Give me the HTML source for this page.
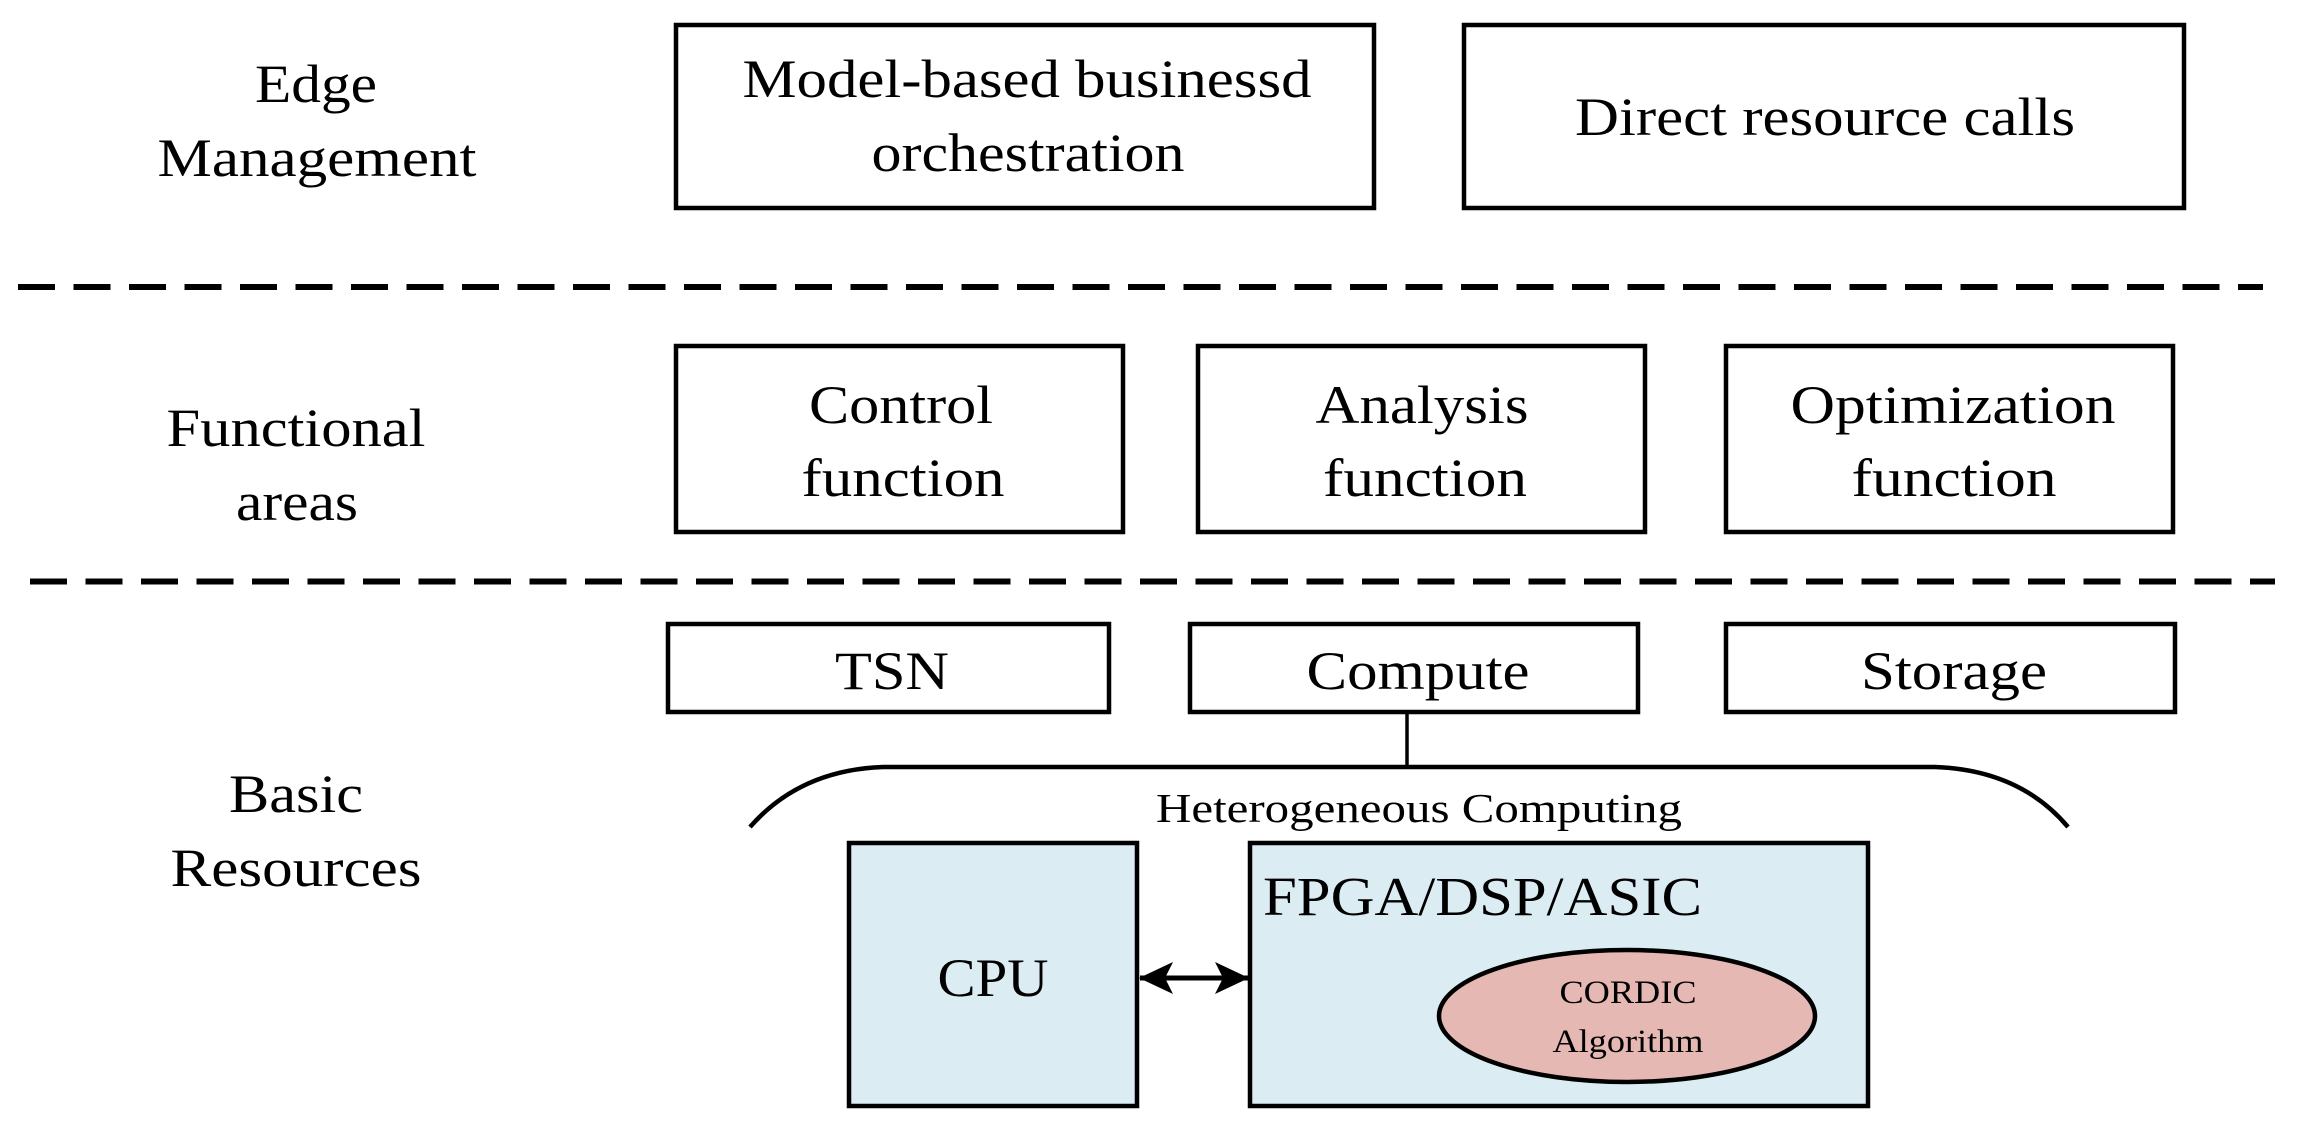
<!DOCTYPE html>
<html><head><meta charset="utf-8"><style>html,body{margin:0;padding:0;background:#fff}svg{display:block}</style></head>
<body>
<svg width="2304" height="1122" viewBox="0 0 2304 1122" xmlns="http://www.w3.org/2000/svg" font-family="'Liberation Serif', serif" fill="#000">
<defs>
<marker id="ah" markerWidth="34" markerHeight="32" refX="33" refY="16" orient="auto-start-reverse" markerUnits="userSpaceOnUse"><path d="M0,0 L34,16 L0,32 L8,16 Z" fill="#000"/></marker>
</defs>
<g fill="none" stroke="#000" stroke-width="4.5">
<rect x="676" y="25" width="698" height="183"/>
<rect x="1464" y="25" width="720" height="183"/>
<rect x="676" y="346" width="447" height="186"/>
<rect x="1198" y="346" width="447" height="186"/>
<rect x="1726" y="346" width="447" height="186"/>
<rect x="668" y="624" width="441" height="88"/>
<rect x="1190" y="624" width="448" height="88"/>
<rect x="1726" y="624" width="449" height="88"/>
<line x1="18" y1="287" x2="2263" y2="287" stroke-width="6" stroke-dasharray="37,18.5"/>
<line x1="30" y1="581.5" x2="2275" y2="581.5" stroke-width="6" stroke-dasharray="37,18.5"/>
<line x1="1407" y1="712" x2="1407" y2="767" stroke-width="3.5"/>
<path d="M750,827 Q800,770 883,767 L1935,767 Q2020,770 2068,827"/>
</g>
<rect x="849" y="843" width="288" height="263" fill="#dbecf2" stroke="#000" stroke-width="4.5"/>
<rect x="1250" y="843" width="618" height="263" fill="#dbecf2" stroke="#000" stroke-width="4.5"/>
<ellipse cx="1627" cy="1016" rx="188" ry="66" fill="#e6b8b4" stroke="#000" stroke-width="4.5"/>
<line x1="1140" y1="978" x2="1248" y2="978" stroke="#000" stroke-width="5" marker-start="url(#ah)" marker-end="url(#ah)"/>
<g font-size="54" text-anchor="middle">
<text x="316" y="102" textLength="122" lengthAdjust="spacingAndGlyphs">Edge</text>
<text x="317" y="176" textLength="319" lengthAdjust="spacingAndGlyphs">Management</text>
<text x="296" y="446" textLength="259" lengthAdjust="spacingAndGlyphs">Functional</text>
<text x="297" y="520" textLength="122" lengthAdjust="spacingAndGlyphs">areas</text>
<text x="296" y="812" textLength="134" lengthAdjust="spacingAndGlyphs">Basic</text>
<text x="296" y="886" textLength="251" lengthAdjust="spacingAndGlyphs">Resources</text>
<text x="1027" y="97" textLength="569" lengthAdjust="spacingAndGlyphs">Model-based businessd</text>
<text x="1028" y="171" textLength="313" lengthAdjust="spacingAndGlyphs">orchestration</text>
<text x="1825" y="135" textLength="500" lengthAdjust="spacingAndGlyphs">Direct resource calls</text>
<text x="901" y="423" textLength="184" lengthAdjust="spacingAndGlyphs">Control</text>
<text x="903" y="496" textLength="203" lengthAdjust="spacingAndGlyphs">function</text>
<text x="1422" y="423" textLength="213" lengthAdjust="spacingAndGlyphs">Analysis</text>
<text x="1425" y="496" textLength="204" lengthAdjust="spacingAndGlyphs">function</text>
<text x="1953" y="423" textLength="325" lengthAdjust="spacingAndGlyphs">Optimization</text>
<text x="1954" y="496" textLength="205" lengthAdjust="spacingAndGlyphs">function</text>
<text x="892" y="689" textLength="114" lengthAdjust="spacingAndGlyphs">TSN</text>
<text x="1418" y="689" textLength="223" lengthAdjust="spacingAndGlyphs">Compute</text>
<text x="1954" y="689" textLength="186" lengthAdjust="spacingAndGlyphs">Storage</text>
<text x="993" y="996" textLength="111" lengthAdjust="spacingAndGlyphs">CPU</text>
</g>
<text x="1419" y="822" font-size="41" text-anchor="middle" textLength="526" lengthAdjust="spacingAndGlyphs">Heterogeneous Computing</text>
<text x="1263" y="915" font-size="55" textLength="439" lengthAdjust="spacingAndGlyphs">FPGA/DSP/ASIC</text>
<g font-size="33" text-anchor="middle">
<text x="1628" y="1003" textLength="137" lengthAdjust="spacingAndGlyphs">CORDIC</text>
<text x="1628" y="1052" textLength="151" lengthAdjust="spacingAndGlyphs">Algorithm</text>
</g>
</svg>
</body></html>
